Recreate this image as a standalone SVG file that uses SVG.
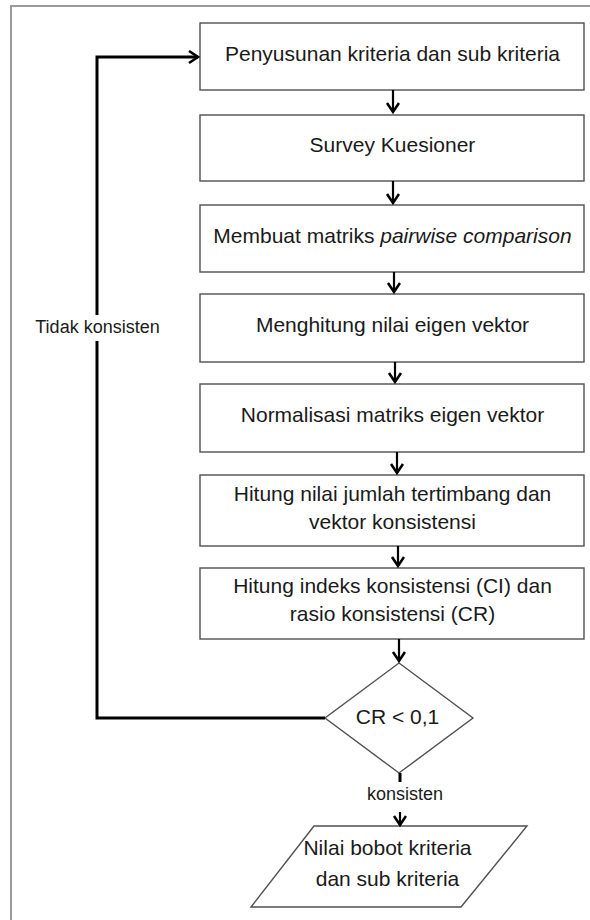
<svg xmlns="http://www.w3.org/2000/svg" width="590" height="920" viewBox="0 0 590 920">
<defs>
<style>
.box{fill:#fff;stroke:#505050;stroke-width:1.4}
.t{font-family:"Liberation Sans",Arial,sans-serif;font-size:21px;fill:#1a1a1a;text-anchor:middle}
.s{font-family:"Liberation Sans",Arial,sans-serif;font-size:18px;fill:#1a1a1a;text-anchor:middle}
.a{fill:none;stroke:#000;stroke-width:2.2}
.loop{fill:none;stroke:#000;stroke-width:3}
</style>
<marker id="ah" markerUnits="userSpaceOnUse" markerWidth="16" markerHeight="16" refX="11" refY="7" orient="auto" viewBox="0 0 16 16">
<path d="M2,1 L11,7 L2,13" fill="none" stroke="#000" stroke-width="2.6"/>
</marker>
</defs>
<rect width="590" height="920" fill="#fff"/>
<rect x="11" y="6" width="590" height="930" fill="none" stroke="#9a9a9a" stroke-width="2"/>

<g id="n1"><rect class="box" x="200" y="23" width="384" height="67"/><text class="t" x="392.5" y="61">Penyusunan kriteria dan sub kriteria</text></g>
<g id="n2"><rect class="box" x="200" y="115" width="384" height="66"/><text class="t" x="392.5" y="152">Survey Kuesioner</text></g>
<g id="n3"><rect class="box" x="200" y="205" width="384" height="67"/><text class="t" x="392.5" y="243">Membuat matriks <tspan font-style="italic">pairwise comparison</tspan></text></g>
<g id="n4"><rect class="box" x="200" y="294" width="384" height="68"/><text class="t" x="392.5" y="332">Menghitung nilai eigen vektor</text></g>
<g id="n5"><rect class="box" x="200" y="384" width="384" height="68"/><text class="t" x="392.5" y="422">Normalisasi matriks eigen vektor</text></g>
<g id="n6"><rect class="box" x="200" y="475" width="384" height="71"/><text class="t" x="392.5" y="501">Hitung nilai jumlah tertimbang dan</text><text class="t" x="392.5" y="529">vektor konsistensi</text></g>
<g id="n7"><rect class="box" x="200" y="568" width="384" height="71"/><text class="t" x="392.5" y="593">Hitung indeks konsistensi (CI) dan</text><text class="t" x="392.5" y="621">rasio konsistensi (CR)</text></g>
<g id="d1"><polygon class="box" points="399,663 473,718 399,773 325,718"/><text class="t" x="397.5" y="724">CR &lt; 0,1</text></g>
<g id="o1"><polygon class="box" points="314,826 527,826 461,907 251,907"/><text class="t" x="387.5" y="855">Nilai bobot kriteria</text><text class="t" x="387.5" y="886">dan sub kriteria</text></g>

<g id="connectors">
<path class="a" d="M393,90 V112" marker-end="url(#ah)"/>
<path class="a" d="M393,181 V203" marker-end="url(#ah)"/>
<path class="a" d="M394,272 V292" marker-end="url(#ah)"/>
<path class="a" d="M395,362 V382" marker-end="url(#ah)"/>
<path class="a" d="M397,452 V473" marker-end="url(#ah)"/>
<path class="a" d="M398,546 V566" marker-end="url(#ah)"/>
<path class="a" d="M399,639 V661" marker-end="url(#ah)"/>
<path class="loop" d="M325,718 H97 V341 M97,315 V57 H198" marker-end="url(#ah)"/>
<text class="s" x="97.5" y="333">Tidak konsisten</text>
<path class="loop" d="M400,773 V782"/>
<text class="s" x="405" y="800">konsisten</text>
<path class="a" d="M400,812 V825" marker-end="url(#ah)"/>
</g>
</svg>
